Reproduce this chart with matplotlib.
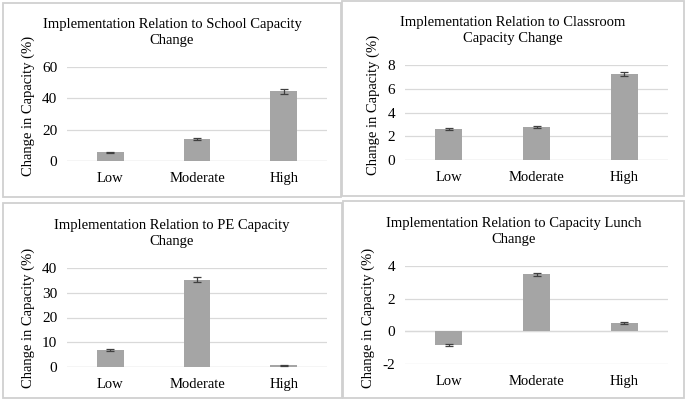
import numpy as np
import matplotlib.pyplot as plt
from matplotlib.patches import Rectangle

plt.rcParams['font.family'] = ['Liberation Serif', 'DejaVu Serif']

categories = ['Low', 'Moderate', 'High']

titles = ['Implementation Relation to School Capacity\nChange',
          'Implementation Relation to Classroom\nCapacity Change',
          'Implementation Relation to PE Capacity\nChange',
          'Implementation Relation to Capacity Lunch\nChange']

school_vals = [5.5, 14.0, 44.5]
school_err = [0.5, 0.5, 1.5]
classroom_vals = [2.6, 2.75, 7.25]
classroom_err = [0.1, 0.08, 0.2]
pe_vals = [6.8, 35.2, 0.8]
pe_err = [0.4, 1.0, 0.2]
lunch_vals = [-0.85, 3.5, 0.5]
lunch_err = [0.05, 0.1, 0.05]

yticks_list = [[0, 20, 40, 60], [0, 2, 4, 6, 8], [0, 10, 20, 30, 40], [-2, 0, 2, 4]]
ylims = [(0, 60), (0, 8), (0, 40), (-2, 4)]

W, H = 685, 400
fig = plt.figure(figsize=(W / 100, H / 100), dpi=100)

def fx(px):
    return px / W

def fy(py):
    return 1 - py / H

# panel layout in pixels: border box, plot area box, title y, ylabel pos
panels = [
    dict(border=(3, 3, 341, 197), plot=(67, 67, 327, 161), title=(172, 24, 41), ylab=(28, 106)),
    dict(border=(342, 1, 684, 196), plot=(405, 65, 668, 160), title=(513, 22, 39), ylab=(373, 105)),
    dict(border=(3, 203, 342, 398), plot=(67, 268, 327, 367), title=(172, 225, 242), ylab=(28, 318)),
    dict(border=(343, 201, 684, 398), plot=(405, 266, 668, 364), title=(514, 222, 240), ylab=(368, 318)),
]

all_vals = [school_vals, classroom_vals, pe_vals, lunch_vals]
all_err = [school_err, classroom_err, pe_err, lunch_err]

x = np.arange(len(categories))

for i, p in enumerate(panels):
    bx0, by0, bx1, by1 = p['border']
    fig.patches.append(Rectangle((fx(bx0), fy(by1)), fx(bx1 - bx0), (by1 - by0) / H,
                                 transform=fig.transFigure, fill=False,
                                 edgecolor='#d0d0d0', linewidth=1.3))
    px0, py0, px1, py1 = p['plot']
    ax = fig.add_axes([fx(px0), fy(py1), fx(px1 - px0), (py1 - py0) / H])
    ax.bar(x, all_vals[i], width=0.31, color='#a5a5a5', zorder=3)
    ax.errorbar(x, all_vals[i], yerr=all_err[i], fmt='none', ecolor='#404040',
                elinewidth=0.9, capsize=3, capthick=0.9, zorder=4)
    ax.set_xlim(-0.5, 2.5)
    ax.set_ylim(*ylims[i])
    ax.set_yticks(yticks_list[i])
    ax.set_yticklabels([str(t) for t in yticks_list[i]], fontsize=11)
    ax.grid(axis='y', color='#d9d9d9', linewidth=0.9, zorder=0)
    for s in ax.spines.values():
        s.set_visible(False)
    ax.axhline(0, color='#d9d9d9', linewidth=0.9, zorder=1)
    ax.set_xticks(x)
    ax.set_xticklabels(categories, fontsize=10.5)
    ax.tick_params(axis='both', length=0)
    ax.tick_params(axis='x', pad=8)
    ax.tick_params(axis='y', pad=7)
    tx, ty0, ty1 = p['title']
    fig.text(fx(tx), fy((ty0 + ty1) / 2), titles[i], ha='center', va='center',
             fontsize=10.5, linespacing=1.3)
    lx, ly = p['ylab']
    fig.text(fx(lx), fy(ly), 'Change in Capacity (%)', rotation=90,
             ha='center', va='center', fontsize=10.5)

fig.savefig('out.png', dpi=100)
